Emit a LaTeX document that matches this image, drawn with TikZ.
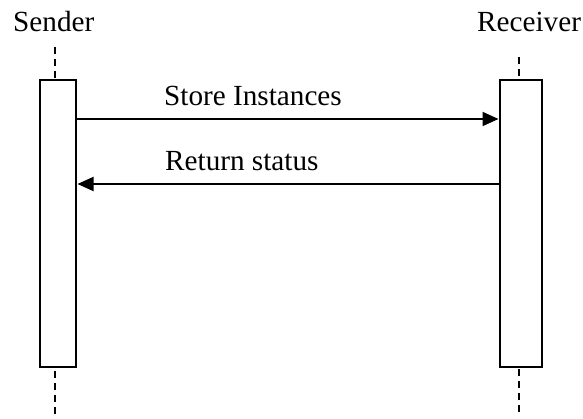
\documentclass[tikz,border=0pt]{standalone}
\usepackage{fontspec}
\setmainfont{Liberation Serif}
\usetikzlibrary{arrows.meta}
\begin{document}
\begin{tikzpicture}[x=1pt,y=-1pt,
  lifebox/.style={draw,line width=2pt,fill=white,minimum width=#1,minimum height=287pt,inner sep=0pt},
  lifeline/.style={line width=2pt,dash pattern=on 7pt off 5pt},
  msg/.style={line width=2pt,-{Triangle[length=16pt,width=14pt]}},
  lbl/.style={anchor=base west,inner sep=0pt,font=\fontsize{29.2}{34}\selectfont}]
\useasboundingbox (0,0) rectangle (583,419);
% participant names
\node[lbl] (sname) at (13,32) {Sender};
\node[lbl] (rname) at (477,32) {Receiver};
% lifelines
\coordinate (stop) at (55,47);
\coordinate (sbot) at (55,419);
\coordinate (rtop) at (519,57);
\coordinate (rbot) at (519,415);
\draw[lifeline] (stop) -- (sbot);
\draw[lifeline] (rtop) -- (rbot);
% activation boxes
\node[lifebox=36pt] (sbox) at (57.5,223.5) {};
\node[lifebox=42pt] (rbox) at (520.5,223.5) {};
% messages
\draw[msg] (sbox.east |- 0,119) -- (rbox.west |- 0,119);
\draw[msg] (rbox.west |- 0,184) -- ([xshift=1pt]sbox.east |- 0,184);
\node[lbl] (m1) at (164,106) {Store Instances};
\node[lbl] (m2) at (165,171) {Return status};
\end{tikzpicture}
\end{document}
